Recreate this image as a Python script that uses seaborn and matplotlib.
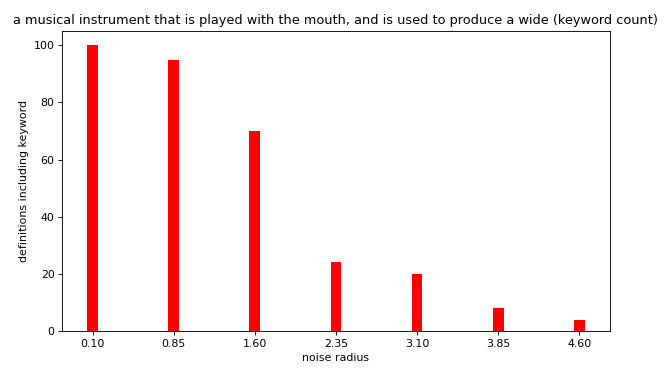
import matplotlib
matplotlib.use("Agg")
import matplotlib.pyplot as plt
import seaborn as sns
import pandas as pd

noise_radius = [0.10, 0.85, 1.60, 2.35, 3.10, 3.85, 4.60]
counts = [100, 95, 70, 24, 20, 8, 4]
tick_labels = ["0.10", "0.85", "1.60", "2.35", "3.10", "3.85", "4.60"]

df = pd.DataFrame({"radius": noise_radius, "count": counts})

DPI = 79
fig, ax = plt.subplots(figsize=(664 / DPI, 374 / DPI), dpi=DPI)
sns.barplot(data=df, x="radius", y="count", native_scale=True, width=0.1 / 0.75,
            color="red", saturation=1, ax=ax)
for p in ax.patches:
    p.set_edgecolor("none")
ax.set_xticks(noise_radius)
ax.set_xticklabels(tick_labels)
ax.set_xlim(0.05 - 0.23, 4.65 + 0.23)
ax.set_ylim(0, 105)
ax.set_xlabel("noise radius")
ax.set_ylabel("definitions including keyword")
ax.set_title("a musical instrument that is played with the mouth, and is used to produce a wide (keyword count)",
             fontsize=11.75)
fig.subplots_adjust(left=0.094, right=0.918, top=0.917, bottom=0.115)
fig.savefig("out.png", dpi=DPI)
